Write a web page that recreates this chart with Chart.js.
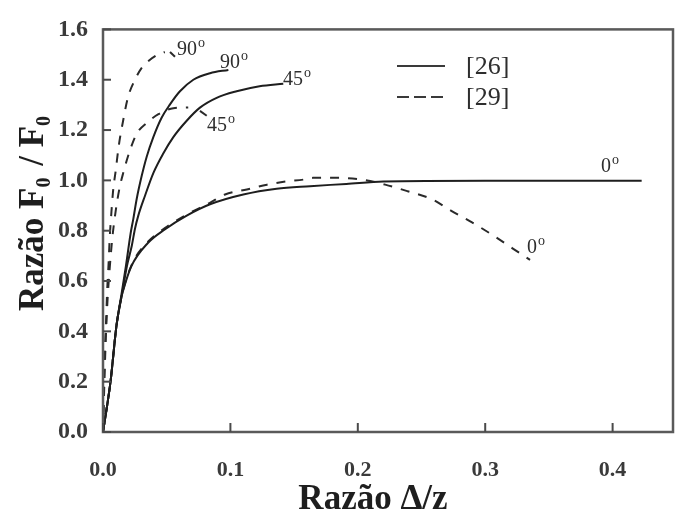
<!DOCTYPE html>
<html>
<head>
<meta charset="utf-8">
<script src="https://cdn.jsdelivr.net/npm/chart.js@4.4.1/dist/chart.umd.min.js"></script>
<style>
  html, body { margin: 0; padding: 0; background: #ffffff; }
  canvas { display: block; }
</style>
</head>
<body>
<canvas id="c" width="675" height="513"></canvas>
<script>
// ---------------- data ----------------
const xTickValues = [0, 0.1, 0.2, 0.3, 0.4];
const yTickValues = [0, 0.2, 0.4, 0.6, 0.8, 1.0, 1.2, 1.4, 1.6];

// Reference [26] (solid)
const ref26_90_x = [0, 0.0059, 0.0105, 0.0146, 0.018, 0.0217, 0.0238, 0.0264, 0.0303, 0.0343, 0.0395, 0.0461, 0.0526, 0.0604, 0.0709, 0.084, 0.0984];
const ref26_90_y = [0, 0.2, 0.42, 0.55, 0.66, 0.79, 0.847, 0.925, 1.016, 1.094, 1.172, 1.25, 1.302, 1.354, 1.40, 1.426, 1.439];

const ref26_45_x = [0, 0.0059, 0.0105, 0.015, 0.0188, 0.0226, 0.0251, 0.0277, 0.0329, 0.0395, 0.0473, 0.0552, 0.0657, 0.0761, 0.0892, 0.1049, 0.1229, 0.1415];
const ref26_45_y = [0, 0.2, 0.42, 0.55, 0.66, 0.74, 0.808, 0.86, 0.938, 1.029, 1.107, 1.172, 1.237, 1.289, 1.328, 1.354, 1.374, 1.384];

const ref26_0_x = [0, 0.0059, 0.0105, 0.0142, 0.0157, 0.0222, 0.0354, 0.0485, 0.0657, 0.084, 0.1101, 0.1363, 0.1625, 0.191, 0.22, 0.30, 0.4228];
const ref26_0_y = [0, 0.2, 0.42, 0.53, 0.56, 0.658, 0.752, 0.805, 0.86, 0.905, 0.944, 0.967, 0.977, 0.986, 0.996, 0.999, 0.999];

// Reference [29] (dashed)
const ref29_90_x = [0, 0.0008, 0.0017, 0.0025, 0.0033, 0.0044, 0.0053, 0.0065, 0.0079, 0.010, 0.0123, 0.0159, 0.0196, 0.0251, 0.0301, 0.0359, 0.0421, 0.0485];
const ref29_90_y = [0, 0.2, 0.35, 0.45, 0.567, 0.671, 0.775, 0.866, 0.957, 1.04, 1.135, 1.24, 1.33, 1.40, 1.445, 1.475, 1.497, 1.51];

const ref29_45_x = [0, 0.0017, 0.0033, 0.0054, 0.0075, 0.010, 0.013, 0.0159, 0.0212, 0.0264, 0.0343, 0.0435, 0.0552, 0.0669];
const ref29_45_y = [0, 0.3, 0.5, 0.66, 0.78, 0.88, 0.97, 1.03, 1.12, 1.185, 1.228, 1.263, 1.287, 1.29];

const ref29_0_x = [0, 0.0059, 0.0105, 0.0142, 0.0226, 0.0351, 0.0485, 0.066, 0.0836, 0.0958, 0.1129, 0.1287, 0.1442, 0.1572, 0.1647, 0.1847, 0.2032, 0.2215, 0.2391, 0.2583, 0.2734, 0.2893, 0.306, 0.3214, 0.3352];
const ref29_0_y = [0, 0.2, 0.42, 0.53, 0.665, 0.755, 0.81, 0.865, 0.91, 0.944, 0.964, 0.983, 0.996, 1.003, 1.01, 1.01, 1.003, 0.983, 0.957, 0.925, 0.879, 0.834, 0.782, 0.73, 0.684];

const legendLabels = ['[26]', '[29]'];
const curveAngles = ['90', '90', '45', '45', '0', '0'];

// ---------------- annotation placement (data units) ----------------
const angleLabelAnchors = [
  { text: curveAngles[0], x: 0.0581, y: 1.499 },  // dashed 90
  { text: curveAngles[1], x: 0.0918, y: 1.448 },  // solid 90
  { text: curveAngles[2], x: 0.1413, y: 1.378 },  // solid 45
  { text: curveAngles[3], x: 0.0816, y: 1.198 },  // dashed 45
  { text: curveAngles[4], x: 0.3909, y: 1.034 },  // solid 0
  { text: curveAngles[5], x: 0.3328, y: 0.710 }   // dashed 0
];
const leaderLines = [
  [0.0526, 1.510, 0.0565, 1.491],
  [0.0761, 1.276, 0.0814, 1.257]
];

function pts(xs, ys) { return xs.map((x, i) => ({ x: x, y: ys[i] })); }

const SERIF = '"Liberation Serif", "DejaVu Serif", serif';
const solidStyle = { borderColor: '#1e1e1e', borderWidth: 2, borderDash: [] };
const dashStyle = { borderColor: '#2a2a2a', borderWidth: 2, borderDash: [9, 9] };

function ds(label, xs, ys, st) {
  return Object.assign({
    label: label,
    data: pts(xs, ys),
    showLine: true,
    fill: false,
    pointRadius: 0,
    pointHoverRadius: 0,
    cubicInterpolationMode: 'monotone'
  }, st);
}

const decor = {
  id: 'decor',
  afterDraw(chart) {
    const ctx = chart.ctx;
    const a = chart.chartArea;
    const xs = chart.scales.x, ys = chart.scales.y;
    ctx.save();

    // frame
    ctx.strokeStyle = '#5a5a5a';
    ctx.lineWidth = 2.5;
    ctx.setLineDash([]);
    ctx.strokeRect(a.left, a.top, a.right - a.left, a.bottom - a.top);

    // inward tick marks
    ctx.lineWidth = 2;
    ctx.strokeStyle = '#4a4a4a';
    xTickValues.forEach(v => {
      const p = xs.getPixelForValue(v);
      ctx.beginPath(); ctx.moveTo(p, a.bottom); ctx.lineTo(p, a.bottom - 9); ctx.stroke();
    });
    yTickValues.forEach(v => {
      const p = ys.getPixelForValue(v);
      ctx.beginPath(); ctx.moveTo(a.left, p); ctx.lineTo(a.left + 8, p); ctx.stroke();
    });

    // angle labels with superscript degree-like "o"
    ctx.fillStyle = '#2e2e2e';
    ctx.textBaseline = 'alphabetic';
    ctx.textAlign = 'left';
    angleLabelAnchors.forEach(l => {
      const px = xs.getPixelForValue(l.x), py = ys.getPixelForValue(l.y);
      ctx.font = '20px ' + SERIF;
      ctx.fillText(l.text, px, py);
      const w = ctx.measureText(l.text).width;
      ctx.font = '14px ' + SERIF;
      ctx.fillText('o', px + w + 1, py - 8);
    });

    // leader ticks
    ctx.strokeStyle = '#2a2a2a';
    ctx.lineWidth = 2;
    leaderLines.forEach(s => {
      ctx.beginPath();
      ctx.moveTo(xs.getPixelForValue(s[0]), ys.getPixelForValue(s[1]));
      ctx.lineTo(xs.getPixelForValue(s[2]), ys.getPixelForValue(s[3]));
      ctx.stroke();
    });

    // legend
    const lx0 = 397, lx1 = 445, ly = [66, 97];
    chart.data.datasets.slice(0, 2).forEach((d, i) => {
      ctx.strokeStyle = '#3a3a3a';
      ctx.lineWidth = 2;
      ctx.setLineDash(i === 0 ? [] : [12, 5]);
      ctx.beginPath(); ctx.moveTo(lx0, ly[i]); ctx.lineTo(lx1, ly[i]); ctx.stroke();
    });
    ctx.setLineDash([]);
    ctx.fillStyle = '#2e2e2e';
    ctx.font = '26px ' + SERIF;
    legendLabels.forEach((t, i) => ctx.fillText(t, 466, ly[i] + 8));

    // x-axis title
    ctx.fillStyle = '#1e1e1e';
    ctx.font = 'bold 35px ' + SERIF;
    ctx.textAlign = 'center';
    ctx.fillText('Razão \u0394/z', 373, 509);

    // y-axis title (rotated, with subscripts)
    const parts = [
      ['Razão F', 'bold 35px ' + SERIF, 0],
      ['0', 'bold 20px ' + SERIF, 7],
      [' / F', 'bold 35px ' + SERIF, 0],
      ['0', 'bold 20px ' + SERIF, 7]
    ];
    ctx.textAlign = 'left';
    let total = 0;
    parts.forEach(p => { ctx.font = p[1]; total += ctx.measureText(p[0]).width + (p[0] === '0' ? 3 : 0); });
    ctx.translate(43, 212);
    ctx.rotate(-Math.PI / 2);
    let cx = -total / 2;
    parts.forEach(p => {
      ctx.font = p[1];
      ctx.fillText(p[0], cx, p[2]);
      cx += ctx.measureText(p[0]).width + (p[0] === '0' ? 3 : 0);
    });
    ctx.restore();
  }
};

new Chart(document.getElementById('c'), {
  type: 'scatter',
  data: {
    datasets: [
      ds('[26] 90°', ref26_90_x, ref26_90_y, solidStyle),
      ds('[29] 90°', ref29_90_x, ref29_90_y, dashStyle),
      ds('[26] 45°', ref26_45_x, ref26_45_y, solidStyle),
      ds('[29] 45°', ref29_45_x, ref29_45_y, dashStyle),
      ds('[26] 0°', ref26_0_x, ref26_0_y, solidStyle),
      ds('[29] 0°', ref29_0_x, ref29_0_y, dashStyle)
    ]
  },
  options: {
    responsive: false,
    animation: false,
    devicePixelRatio: 1,
    layout: { padding: { top: 22, right: 2, left: 0, bottom: 0 } },
    plugins: { legend: { display: false }, tooltip: { enabled: false } },
    scales: {
      x: {
        type: 'linear',
        min: 0,
        max: 0.4474,
        afterBuildTicks: s => { s.ticks = xTickValues.map(v => ({ value: v })); },
        afterFit: s => { s.height = 81; },
        grid: { display: false, drawTicks: false },
        border: { display: false },
        ticks: {
          padding: 25,
          maxRotation: 0,
          color: '#3a3a3a',
          font: { family: SERIF, size: 22, weight: 'bold' },
          callback: v => Number(v).toFixed(1)
        }
      },
      y: {
        type: 'linear',
        min: 0,
        max: 1.6,
        afterBuildTicks: s => { s.ticks = yTickValues.map(v => ({ value: v })); },
        afterFit: s => { s.width = 103; },
        grid: { display: false, drawTicks: false },
        border: { display: false },
        ticks: {
          padding: 15,
          color: '#3a3a3a',
          font: { family: SERIF, size: 24, weight: 'bold' },
          callback: v => Number(v).toFixed(1)
        }
      }
    }
  },
  plugins: [decor]
});
</script>
</body>
</html>
